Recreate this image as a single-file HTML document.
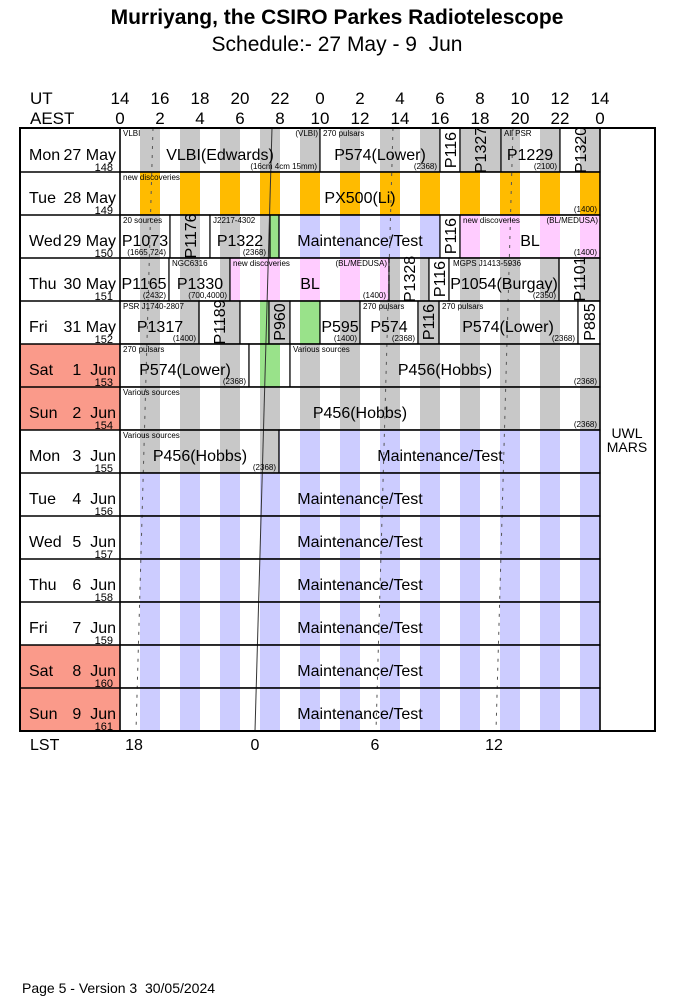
<!DOCTYPE html>
<html><head><meta charset="utf-8"><style>
html,body{margin:0;padding:0;background:#fff;}
svg{display:block;font-family:"Liberation Sans",Arial,sans-serif;}
text{white-space:pre;}
.m{font-size:16px;text-anchor:middle;}
.s{font-size:8px;}
.e{font-size:8px;text-anchor:end;}
.d{font-size:16px;}
.de{font-size:16px;text-anchor:end;}
.n{font-size:11px;text-anchor:end;}
.h{font-size:17px;text-anchor:middle;}
</style></head><body>
<svg width="674" height="1008" viewBox="0 0 674 1008" xmlns="http://www.w3.org/2000/svg" xml:space="preserve">
<defs>
<pattern id="g" width="40" height="10" patternUnits="userSpaceOnUse"><rect width="40" height="10" fill="#fff"/><rect x="20" width="20" height="10" fill="#c8c8c8"/></pattern>
<pattern id="o" width="40" height="10" patternUnits="userSpaceOnUse"><rect width="40" height="10" fill="#fff"/><rect x="20" width="20" height="10" fill="#ffbb00"/></pattern>
<pattern id="b" width="40" height="10" patternUnits="userSpaceOnUse"><rect width="40" height="10" fill="#fff"/><rect x="20" width="20" height="10" fill="#ccccff"/></pattern>
<pattern id="p" width="40" height="10" patternUnits="userSpaceOnUse"><rect width="40" height="10" fill="#fff"/><rect x="20" width="20" height="10" fill="#ffccff"/></pattern>
<pattern id="gr" width="40" height="10" patternUnits="userSpaceOnUse"><rect width="40" height="10" fill="#fff"/><rect x="20" width="20" height="10" fill="#99e28a"/></pattern>
</defs>

<text x="337" y="24" font-size="21" font-weight="bold" text-anchor="middle">Murriyang, the CSIRO Parkes Radiotelescope</text>
<text x="337" y="51" font-size="21" text-anchor="middle">Schedule:- 27 May - 9  Jun</text>

<text x="30" y="104" font-size="17">UT</text>
<text x="30" y="124" font-size="17">AEST</text>
<g class="h">
<text x="120" y="104">14</text><text x="160" y="104">16</text><text x="200" y="104">18</text><text x="240" y="104">20</text><text x="280" y="104">22</text><text x="320" y="104">0</text><text x="360" y="104">2</text><text x="400" y="104">4</text><text x="440" y="104">6</text><text x="480" y="104">8</text><text x="520" y="104">10</text><text x="560" y="104">12</text><text x="600" y="104">14</text>
<text x="120" y="124">0</text><text x="160" y="124">2</text><text x="200" y="124">4</text><text x="240" y="124">6</text><text x="280" y="124">8</text><text x="320" y="124">10</text><text x="360" y="124">12</text><text x="400" y="124">14</text><text x="440" y="124">16</text><text x="480" y="124">18</text><text x="520" y="124">20</text><text x="560" y="124">22</text><text x="600" y="124">0</text>
</g>

<rect x="20" y="344" width="100" height="86" fill="#fa9a8a"/>
<rect x="20" y="645" width="100" height="86" fill="#fa9a8a"/>

<g stroke="#000" stroke-width="1.2">
<rect x="120" y="128" width="200" height="44" fill="url(#g)"/>
<rect x="320" y="128" width="120" height="44" fill="url(#g)"/>
<rect x="440" y="128" width="20" height="44" fill="#fff"/>
<rect x="460" y="128" width="41" height="44" fill="#c8c8c8"/>
<rect x="501" y="128" width="59" height="44" fill="url(#g)"/>
<rect x="560" y="128" width="40" height="44" fill="url(#g)"/>
<rect x="120" y="172" width="480" height="43" fill="url(#o)"/>
<rect x="120" y="215" width="50" height="43" fill="url(#g)"/>
<rect x="170" y="215" width="40" height="43" fill="url(#g)"/>
<rect x="210" y="215" width="60" height="43" fill="url(#g)"/>
<rect x="270" y="215" width="9" height="43" fill="#99e28a"/>
<rect x="279" y="215" width="161" height="43" fill="url(#b)"/>
<rect x="440" y="215" width="20" height="43" fill="#fff"/>
<rect x="460" y="215" width="140" height="43" fill="url(#p)"/>
<rect x="120" y="258" width="49" height="43" fill="url(#g)"/>
<rect x="169" y="258" width="61" height="43" fill="url(#g)"/>
<rect x="230" y="258" width="159" height="43" fill="url(#p)"/>
<rect x="389" y="258" width="40" height="43" fill="url(#g)"/>
<rect x="429" y="258" width="20" height="43" fill="#fff"/>
<rect x="449" y="258" width="110" height="43" fill="url(#g)"/>
<rect x="559" y="258" width="41" height="43" fill="url(#g)"/>
<rect x="120" y="301" width="79" height="43" fill="url(#g)"/>
<rect x="199" y="301" width="41" height="43" fill="url(#g)"/>
<rect x="240" y="301" width="29" height="43" fill="url(#gr)"/>
<rect x="269" y="301" width="21" height="43" fill="#c8c8c8"/>
<rect x="290" y="301" width="30" height="43" fill="url(#gr)"/>
<rect x="320" y="301" width="40" height="43" fill="url(#g)"/>
<rect x="360" y="301" width="58" height="43" fill="url(#g)"/>
<rect x="418" y="301" width="21" height="43" fill="#c8c8c8"/>
<rect x="439" y="301" width="139" height="43" fill="url(#g)"/>
<rect x="578" y="301" width="22" height="43" fill="#fff"/>
<rect x="120" y="344" width="129" height="43" fill="url(#g)"/>
<rect x="249" y="344" width="41" height="43" fill="url(#gr)"/>
<rect x="290" y="344" width="310" height="43" fill="url(#g)"/>
<rect x="120" y="387" width="480" height="43" fill="url(#g)"/>
<rect x="120" y="430" width="159" height="43" fill="url(#g)"/>
<rect x="279" y="430" width="321" height="43" fill="url(#b)"/>
<rect x="120" y="473" width="480" height="43" fill="url(#b)"/>
<rect x="120" y="516" width="480" height="43" fill="url(#b)"/>
<rect x="120" y="559" width="480" height="43" fill="url(#b)"/>
<rect x="120" y="602" width="480" height="43" fill="url(#b)"/>
<rect x="120" y="645" width="480" height="43" fill="url(#b)"/>
<rect x="120" y="688" width="480" height="43" fill="url(#b)"/>
</g>

<line x1="272" y1="128" x2="255" y2="731" stroke="#333" stroke-width="1"/>
<g stroke="#555" stroke-width="1" stroke-dasharray="3,6">
<line x1="153" y1="128" x2="136" y2="731"/>
<line x1="393" y1="128" x2="376" y2="731"/>
<line x1="513" y1="128" x2="496" y2="731"/>
</g>

<g stroke="#000" stroke-width="1.5" fill="none">
<rect x="20" y="128" width="635" height="603" stroke-width="2"/>
<line x1="120" y1="128" x2="120" y2="731"/>
<line x1="600" y1="128" x2="600" y2="731"/>
<line x1="20" y1="172" x2="600" y2="172"/><line x1="20" y1="215" x2="600" y2="215"/><line x1="20" y1="258" x2="600" y2="258"/><line x1="20" y1="301" x2="600" y2="301"/><line x1="20" y1="344" x2="600" y2="344"/><line x1="20" y1="387" x2="600" y2="387"/><line x1="20" y1="430" x2="600" y2="430"/><line x1="20" y1="473" x2="600" y2="473"/><line x1="20" y1="516" x2="600" y2="516"/><line x1="20" y1="559" x2="600" y2="559"/><line x1="20" y1="602" x2="600" y2="602"/><line x1="20" y1="645" x2="600" y2="645"/><line x1="20" y1="688" x2="600" y2="688"/>
</g>

<g class="d">
<text x="29" y="160">Mon</text>
<text x="29" y="203">Tue</text>
<text x="29" y="246">Wed</text>
<text x="29" y="289">Thu</text>
<text x="29" y="332">Fri</text>
<text x="29" y="375">Sat</text>
<text x="29" y="418">Sun</text>
<text x="29" y="461">Mon</text>
<text x="29" y="504">Tue</text>
<text x="29" y="547">Wed</text>
<text x="29" y="590">Thu</text>
<text x="29" y="633">Fri</text>
<text x="29" y="676">Sat</text>
<text x="29" y="719">Sun</text>
</g>
<g class="de">
<text x="116" y="160">27 May</text>
<text x="116" y="203">28 May</text>
<text x="116" y="246">29 May</text>
<text x="116" y="289">30 May</text>
<text x="116" y="332">31 May</text>
<text x="116" y="375">1  Jun</text>
<text x="116" y="418">2  Jun</text>
<text x="116" y="461">3  Jun</text>
<text x="116" y="504">4  Jun</text>
<text x="116" y="547">5  Jun</text>
<text x="116" y="590">6  Jun</text>
<text x="116" y="633">7  Jun</text>
<text x="116" y="676">8  Jun</text>
<text x="116" y="719">9  Jun</text>
</g>
<g class="n">
<text x="113" y="171">148</text><text x="113" y="214">149</text><text x="113" y="257">150</text><text x="113" y="300">151</text><text x="113" y="343">152</text><text x="113" y="386">153</text><text x="113" y="429">154</text><text x="113" y="472">155</text><text x="113" y="515">156</text><text x="113" y="558">157</text><text x="113" y="601">158</text><text x="113" y="644">159</text><text x="113" y="687">160</text><text x="113" y="730">161</text>
</g>

<g class="m">
<text x="220" y="160">VLBI(Edwards)</text>
<text x="380" y="160">P574(Lower)</text>
<text x="530" y="160">P1229</text>
<text x="360" y="203">PX500(Li)</text>
<text x="145" y="246">P1073</text>
<text x="240" y="246">P1322</text>
<text x="360" y="246">Maintenance/Test</text>
<text x="530" y="246">BL</text>
<text x="144" y="289">P1165</text>
<text x="200" y="289">P1330</text>
<text x="310" y="289">BL</text>
<text x="504" y="289">P1054(Burgay)</text>
<text x="160" y="332">P1317</text>
<text x="340" y="332">P595</text>
<text x="389" y="332">P574</text>
<text x="508" y="332">P574(Lower)</text>
<text x="185" y="375">P574(Lower)</text>
<text x="445" y="375">P456(Hobbs)</text>
<text x="360" y="418">P456(Hobbs)</text>
<text x="200" y="461">P456(Hobbs)</text>
<text x="440" y="461">Maintenance/Test</text>
<text x="360" y="504">Maintenance/Test</text>
<text x="360" y="547">Maintenance/Test</text>
<text x="360" y="590">Maintenance/Test</text>
<text x="360" y="633">Maintenance/Test</text>
<text x="360" y="676">Maintenance/Test</text>
<text x="360" y="719">Maintenance/Test</text>
</g>
<g class="m">
<text transform="translate(456,150) rotate(-90)">P116</text>
<text transform="translate(486,150) rotate(-90)">P1327</text>
<text transform="translate(586,150) rotate(-90)">P1320</text>
<text transform="translate(196,236) rotate(-90)">P1176</text>
<text transform="translate(456,236) rotate(-90)">P116</text>
<text transform="translate(415,279) rotate(-90)">P1328</text>
<text transform="translate(445,279) rotate(-90)">P116</text>
<text transform="translate(585,279) rotate(-90)">P1101</text>
<text transform="translate(225,322) rotate(-90)">P1189</text>
<text transform="translate(285,322) rotate(-90)">P960</text>
<text transform="translate(434,322) rotate(-90)">P116</text>
<text transform="translate(595,322) rotate(-90)">P885</text>
</g>

<g class="s">
<text x="123" y="136">VLBI</text>
<text x="323" y="136">270 pulsars</text>
<text x="504" y="136">All PSR</text>
<text x="123" y="180">new discoveries</text>
<text x="123" y="223">20 sources</text>
<text x="213" y="223">J2217-4302</text>
<text x="463" y="223">new discoveries</text>
<text x="172" y="266">NGC6316</text>
<text x="233" y="266">new discoveries</text>
<text x="453" y="266">MGPS J1413-5936</text>
<text x="123" y="309">PSR J1740-2807</text>
<text x="363" y="309">270 pulsars</text>
<text x="442" y="309">270 pulsars</text>
<text x="123" y="352">270 pulsars</text>
<text x="293" y="352">Various sources</text>
<text x="123" y="395">Various sources</text>
<text x="123" y="438">Various sources</text>
</g>
<g class="e">
<text x="318" y="136">(VLBI)</text>
<text x="598" y="223">(BL/MEDUSA)</text>
<text x="387" y="266">(BL/MEDUSA)</text>
<text x="317" y="169">(16cm 4cm 15mm)</text>
<text x="437" y="169">(2368)</text>
<text x="557" y="169">(2100)</text>
<text x="597" y="212">(1400)</text>
<text x="166" y="255">(1665 724)</text>
<text x="266" y="255">(2368)</text>
<text x="597" y="255">(1400)</text>
<text x="166" y="298">(2432)</text>
<text x="227" y="298">(700,4000)</text>
<text x="386" y="298">(1400)</text>
<text x="556" y="298">(2350)</text>
<text x="196" y="341">(1400)</text>
<text x="357" y="341">(1400)</text>
<text x="415" y="341">(2368)</text>
<text x="575" y="341">(2368)</text>
<text x="246" y="384">(2368)</text>
<text x="597" y="384">(2368)</text>
<text x="597" y="427">(2368)</text>
<text x="276" y="470">(2368)</text>
</g>

<text x="627" y="438" font-size="14" text-anchor="middle">UWL</text>
<text x="627" y="452" font-size="14" text-anchor="middle">MARS</text>

<text x="30" y="750" font-size="16">LST</text>
<g class="h" style="font-size:16px">
<text x="134" y="750">18</text><text x="255" y="750">0</text><text x="375" y="750">6</text><text x="494" y="750">12</text>
</g>

<text x="22" y="993" font-size="14">Page 5 - Version 3  30/05/2024</text>
</svg>
</body></html>
